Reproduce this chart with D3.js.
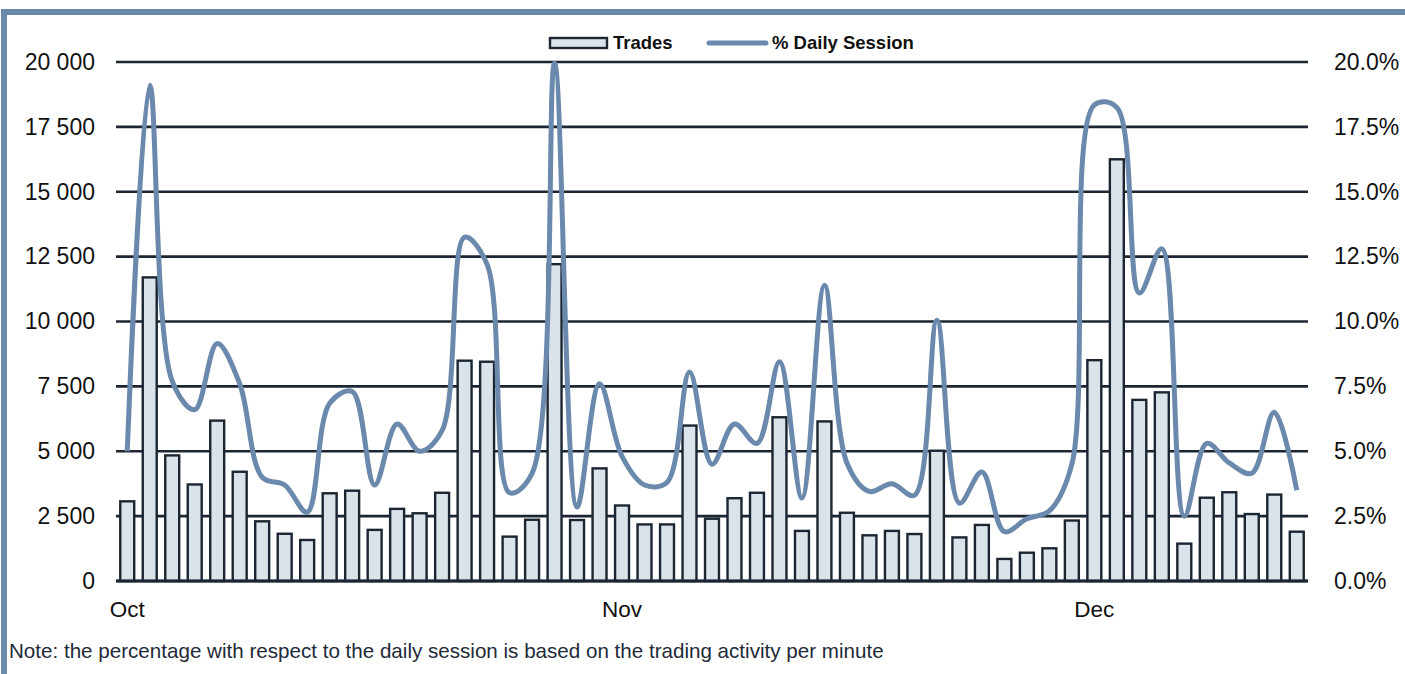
<!DOCTYPE html>
<html>
<head>
<meta charset="utf-8">
<script src="https://cdn.jsdelivr.net/npm/d3@7"></script>
<style>
  html, body { margin: 0; padding: 0; background: #ffffff; }
  svg { display: block; font-family: "Liberation Sans", Arial, sans-serif; }
</style>
</head>
<body>
<svg id="chart" width="1405" height="674"></svg>
<script>
// ---- data ----
const categories = d3.range(1, 54).map(d => "Day " + d);
const trades = [3070, 11700, 4840, 3720, 6180, 4210, 2300, 1820, 1580, 3380,
                3480, 1970, 2780, 2610, 3400, 8490, 8450, 1710, 2360, 12210,
                2350, 4340, 2910, 2180, 2180, 5990, 2400, 3190, 3400, 6310,
                1930, 6150, 2630, 1760, 1930, 1810, 5020, 1680, 2160, 850,
                1090, 1260, 2330, 8510, 16250, 6980, 7270, 1440, 3210, 3420,
                2580, 3330, 1900];
const pctSession = [5.0, 19.1, 7.7, 6.6, 9.15, 7.6, 4.0, 3.7, 2.65, 6.85,
                    7.3, 3.7, 6.05, 5.0, 5.8, 13.25, 12.2, 3.4, 4.15, 19.95,
                    2.85, 7.6, 4.8, 3.7, 3.8, 8.05, 4.5, 6.05, 5.3, 8.45,
                    3.2, 11.4, 4.55, 3.45, 3.75, 3.3, 10.05, 3.0, 4.2, 1.9,
                    2.4, 2.7, 4.5, 18.35, 18.25, 11.1, 12.8, 2.5, 5.3, 4.55,
                    4.15, 6.5, 3.5];
const monthTickIndex = [0, 22, 43];
const monthTickLabels = ["Oct", "Nov", "Dec"];
const leftTicks = [0, 2500, 5000, 7500, 10000, 12500, 15000, 17500, 20000];
const rightTicks = [0, 2.5, 5, 7.5, 10, 12.5, 15, 17.5, 20];
const legendLabels = ["Trades", "% Daily Session"];
const noteText = "Note: the percentage with respect to the daily session is based on the trading activity per minute";

// ---- layout ----
const svg = d3.select("#chart");
const plot = { left: 116, right: 1308, top: 62, bottom: 581 };
const gridColor = "#1B2632";
const lineColor = "#6A89AC";
const barFill = "#DAE3EA";

const x = d3.scaleBand().domain(categories).range([plot.left, plot.right]).paddingInner(0.38).paddingOuter(0.19);
const yL = d3.scaleLinear().domain([0, 20000]).range([plot.bottom, plot.top]);
const yR = d3.scaleLinear().domain([0, 20]).range([plot.bottom, plot.top]);

// frame
svg.append("rect").attr("x", 1).attr("y", 9).attr("width", 1404).attr("height", 6).attr("fill", lineColor);
svg.append("rect").attr("x", 1).attr("y", 9).attr("width", 6).attr("height", 665).attr("fill", lineColor);

// gridlines
svg.append("g").selectAll("line").data(leftTicks).join("line")
  .attr("x1", plot.left).attr("x2", plot.right)
  .attr("y1", d => yL(d)).attr("y2", d => yL(d))
  .attr("stroke", gridColor).attr("stroke-width", 2.6);

// left axis labels
const fmtL = d => d3.format(",")(d).replace(/,/g, " ");
svg.append("g").selectAll("text").data(leftTicks).join("text")
  .attr("x", 95).attr("y", d => yL(d) + 7.8)
  .attr("text-anchor", "end").attr("font-size", 23).attr("fill", "#111")
  .text(fmtL);

// right axis labels
svg.append("g").selectAll("text").data(rightTicks).join("text")
  .attr("x", 1334).attr("y", d => yR(d) + 7.8)
  .attr("text-anchor", "start").attr("font-size", 23).attr("fill", "#111")
  .text(d => d3.format(".1f")(d) + "%");

// bars
svg.append("g").selectAll("rect").data(trades).join("rect")
  .attr("x", (d, i) => x(categories[i]))
  .attr("width", x.bandwidth())
  .attr("y", d => yL(d))
  .attr("height", d => yL(0) - yL(d))
  .attr("fill", barFill).attr("stroke", gridColor).attr("stroke-width", 2.4);

// baseline redraw
svg.append("line").attr("x1", plot.left).attr("x2", plot.right)
  .attr("y1", yL(0)).attr("y2", yL(0)).attr("stroke", gridColor).attr("stroke-width", 2.8);

// line
const line = d3.line()
  .x((d, i) => x(categories[i]) + x.bandwidth() / 2)
  .y(d => yR(d))
  .curve(d3.curveCatmullRom.alpha(0.5));
svg.append("path").datum(pctSession)
  .attr("d", line).attr("fill", "none")
  .attr("stroke", lineColor).attr("stroke-width", 5).attr("stroke-linejoin", "round");

// month labels
svg.append("g").selectAll("text").data(monthTickIndex).join("text")
  .attr("x", d => x(categories[d]) + x.bandwidth() / 2)
  .attr("y", 617)
  .attr("text-anchor", "middle").attr("font-size", 22.5).attr("fill", "#111")
  .text((d, i) => monthTickLabels[i]);

// legend
const lg = svg.append("g");
lg.append("rect").attr("x", 550).attr("y", 38).attr("width", 57).attr("height", 10)
  .attr("fill", barFill).attr("stroke", gridColor).attr("stroke-width", 2.4);
lg.append("text").attr("x", 613).attr("y", 48.5).attr("font-size", 18.5).attr("font-weight", "bold")
  .attr("fill", "#111").text(legendLabels[0]);
lg.append("line").attr("x1", 709).attr("x2", 766).attr("y1", 43).attr("y2", 43)
  .attr("stroke", lineColor).attr("stroke-width", 5).attr("stroke-linecap", "round");
lg.append("text").attr("x", 772).attr("y", 48.5).attr("font-size", 18.5).attr("font-weight", "bold")
  .attr("fill", "#111").text(legendLabels[1]);

// note
svg.append("text").attr("x", 9).attr("y", 658).attr("font-size", 20.6).attr("fill", "#1E2A38")
  .text(noteText);
</script>
</body>
</html>
